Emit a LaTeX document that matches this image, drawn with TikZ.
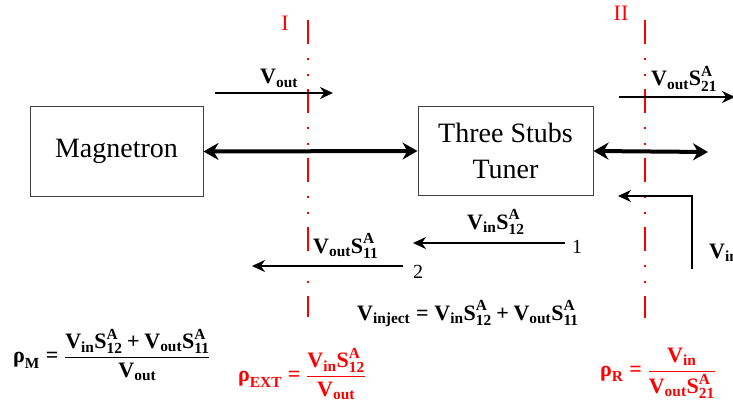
\documentclass[tikz,border=0pt]{standalone}
\usepackage{amsmath}
\usepackage{fontspec}
\setmainfont{Liberation Serif}
\usetikzlibrary{arrows.meta}
\newcommand{\bV}[1]{\text{\bfseries V}_{\text{\bfseries #1}}}
\newcommand{\bS}[2]{\text{\bfseries S}^{\text{\bfseries #1}}_{\text{\bfseries #2}}}
\newcommand{\bEq}{\mathrel{\text{\bfseries =}}}
\newcommand{\bPlus}{\mathbin{\text{\bfseries +}}}
\newcommand{\bRho}[1]{\text{\bfseries ρ}_{\text{\bfseries #1}}}
\begin{document}
\begin{tikzpicture}[x=1pt,y=-1pt,
  box/.style={draw=black!75,line width=1pt,minimum width=173pt,minimum height=89pt,font=\fontsize{28}{34}\selectfont,align=center,inner sep=0pt},
  thinarrow/.style={line width=1.8pt,-{Stealth[length=13pt,width=12pt]}},
  thickarrow/.style={line width=4pt,{Stealth[length=15pt,width=17pt]}-{Stealth[length=15pt,width=17pt]}},
  refline/.style={red,line width=2.4pt,dash pattern=on 24pt off 14pt on 2pt off 14pt on 2pt off 13pt},
  lbl/.style={font=\fontsize{22}{26}\selectfont\bfseries,inner sep=0pt},
  num/.style={font=\fontsize{20}{24}\selectfont,inner sep=0pt},
  roman/.style={red,font=\fontsize{22}{26}\selectfont,inner sep=0pt}]
\useasboundingbox (0,0) rectangle (733,409);
\clip (0,0) rectangle (733,409);
% boxes
\node[box] (mag) at (116.5,151.5) {Magnetron};
\node[box,minimum width=175pt,minimum height=88pt] (tuner) at (505.5,151) {Three Stubs\\[2pt]Tuner};
% reference planes
\coordinate (Itop) at (308,20);
\coordinate (Ibot) at (308,317);
\coordinate (IItop) at (645,20);
\coordinate (IIbot) at (645,318);
\draw[refline] (Itop) -- (Ibot);
\draw[refline] (IItop) -- (IIbot);
\node[roman] (lI) at (285,23) {I};
\node[roman] (lII) at (621,13) {II};
% main double arrows
\coordinate (rightend) at (708,152);
\draw[thickarrow] (mag.east) -- (tuner.west);
\draw[thickarrow] (tuner.east) -- (rightend);
% Vout arrow
\coordinate (voA) at (215,93);
\coordinate (voB) at (333,93);
\draw[thinarrow] (voA) -- (voB);
\node[lbl,anchor=base west] (voL) at (260,84) {$\bV{out}$};
% Vout S21
\coordinate (vsA) at (619,97);
\coordinate (vsB) at (735,97);
\draw[thinarrow] (vsA) -- (vsB);
\node[lbl,anchor=base west] (vsL) at (651,86) {$\bV{out}\bS{A}{21}$};
% Vin return
\coordinate (viA) at (692,269);
\coordinate (viB) at (618,196);
\draw[thinarrow] (viA) |- (viB);
\node[lbl,anchor=base west] (viL) at (709,258) {$\bV{in}$};
% Vin S12
\coordinate (p1) at (565,243);
\coordinate (p1e) at (413,243);
\draw[thinarrow] (p1) -- (p1e);
\node[num,anchor=base west] (n1) at (572,253) {1};
\node[lbl,anchor=base west] (l12) at (467,229) {$\bV{in}\bS{A}{12}$};
% Vout S11
\coordinate (p2) at (403,266);
\coordinate (p2e) at (252,266);
\draw[thinarrow] (p2) -- (p2e);
\node[num,anchor=base west] (n2) at (413,278) {2};
\node[lbl,anchor=base west] (l11) at (313,253) {$\bV{out}\bS{A}{11}$};
% formulas
\node[lbl,anchor=base west] (inj) at (357,320) {$\bV{inject}\bEq\bV{in}\bS{A}{12}\bPlus\bV{out}\bS{A}{11}$};
\node[lbl,anchor=west] (rhoM) at (13,355) {$\bRho{M}\bEq\dfrac{\bV{in}\bS{A}{12}\bPlus\bV{out}\bS{A}{11}}{\bV{out}}$};
\node[lbl,red,anchor=west] (rhoE) at (238,374) {$\bRho{EXT}\bEq\dfrac{\bV{in}\bS{A}{12}}{\bV{out}}$};
\node[lbl,red,anchor=west] (rhoR) at (600,373) {$\bRho{R}\bEq\dfrac{\bV{in}}{\bV{out}\bS{A}{21}}$};
\end{tikzpicture}
\end{document}
